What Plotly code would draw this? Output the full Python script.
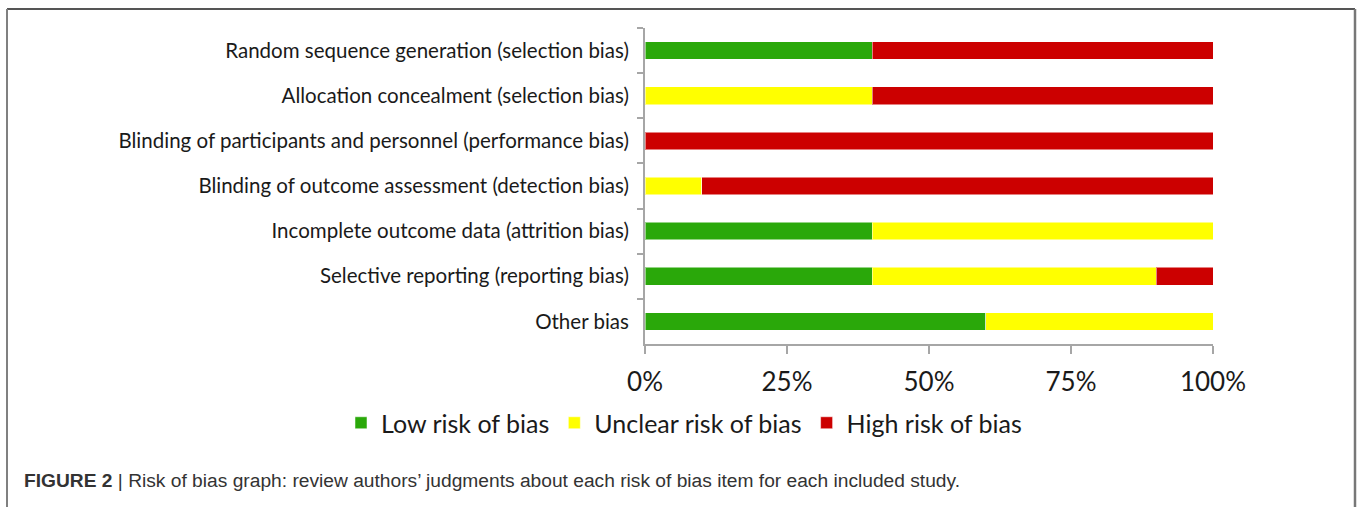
import plotly.graph_objects as go

W, H = 1357, 507

categories = [
    "Random sequence generation (selection bias)",
    "Allocation concealment (selection bias)",
    "Blinding of participants and personnel (performance bias)",
    "Blinding of outcome assessment (detection bias)",
    "Incomplete outcome data (attrition bias)",
    "Selective reporting (reporting bias)",
    "Other bias",
]
low = [40, 0, 0, 0, 40, 40, 60]
unclear = [0, 40, 0, 10, 60, 50, 40]
high = [60, 60, 100, 90, 0, 10, 0]

series_names = ["Low risk of bias", "Unclear risk of bias", "High risk of bias"]
series_colors = ["#2aa80a", "#ffff00", "#cc0000"]
tick_vals = [0, 25, 50, 75, 100]
tick_text = ["0%", "25%", "50%", "75%", "100%"]
caption_bold = "FIGURE 2"
caption_text = "Risk of bias graph: review authors\u2019 judgments about each risk of bias item for each included study."

label_font = "Lato, Open Sans, sans-serif"

fig = go.Figure()
for name, vals, col in zip(series_names, [low, unclear, high], series_colors):
    fig.add_trace(go.Bar(
        y=categories, x=vals, name=name, orientation="h",
        marker=dict(color=col, line=dict(color="rgba(255,255,255,0.5)", width=1)),
        width=0.39,
    ))

def px(x):
    return x / W

def py(y):
    return 1 - y / H

fig.update_layout(
    width=W, height=H,
    barmode="stack",
    paper_bgcolor="white", plot_bgcolor="white",
    margin=dict(l=0, r=0, t=0, b=0, pad=0, autoexpand=False),
    xaxis=dict(
        domain=[px(645), px(1213)],
        range=[0, 100], tickvals=tick_vals, ticktext=tick_text,
        showgrid=False, zeroline=False,
        showline=True, linecolor="#a6a6a6", linewidth=2,
        ticks="outside", ticklen=8, tickcolor="#a6a6a6", tickwidth=2,
        tickfont=dict(family=label_font, size=26, color="#1a1a1a"),
        ticklabelstandoff=6, automargin=False,
    ),
    yaxis=dict(
        domain=[py(344), py(28)],
        autorange="reversed",
        showgrid=False, zeroline=False,
        showline=True, linecolor="#a6a6a6", linewidth=2,
        ticks="outside", ticklen=6, tickcolor="#a6a6a6", tickwidth=2,
        tickson="boundaries",
        tickfont=dict(family=label_font, size=20.5, color="#1a1a1a"),
        ticklabelstandoff=10, automargin=False,
    ),
    legend=dict(
        orientation="h", x=px(684), xanchor="center", y=py(423), yanchor="middle",
        font=dict(family=label_font, size=25, color="#1a1a1a"),
        traceorder="normal", itemwidth=30,
    ),
    showlegend=True,
)

# figure frame (top, left, right)
fig.add_shape(type="line", xref="paper", yref="paper",
              x0=px(7), x1=px(1355), y0=py(9), y1=py(9),
              line=dict(color="#555555", width=2))
fig.add_shape(type="line", xref="paper", yref="paper",
              x0=px(7), x1=px(7), y0=py(9), y1=0,
              line=dict(color="#808080", width=2))
fig.add_shape(type="line", xref="paper", yref="paper",
              x0=px(1355), x1=px(1355), y0=py(9), y1=0,
              line=dict(color="#777777", width=2.5))

fig.add_annotation(
    xref="paper", yref="paper", x=px(22), y=py(480), xanchor="left", yanchor="middle",
    showarrow=False,
    text=f"<b>{caption_bold}</b> | {caption_text}",
    font=dict(family="Liberation Sans Narrow, Liberation Sans, Arial, sans-serif", size=19.2, color="#333333"),
)

fig.write_html(
    "out.html",
    config={"responsive": False, "displayModeBar": False},
    post_script="document.body.style.margin='0';document.body.style.overflow='hidden';",
)
